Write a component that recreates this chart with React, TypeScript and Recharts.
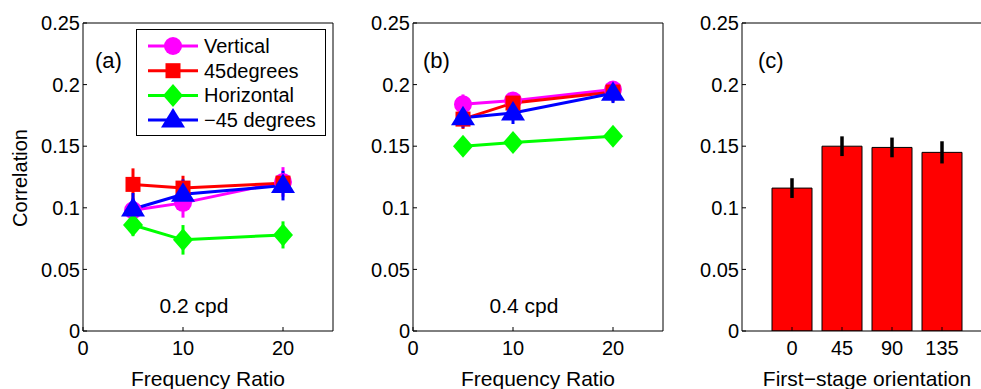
import React from "react";
import {
  LineChart,
  Line,
  ComposedChart,
  Bar,
  XAxis,
  YAxis,
  ErrorBar,
  Legend,
  Customized,
} from "recharts";

const FONT = "'Liberation Sans', Arial, Helvetica, sans-serif";

// frequency ratios on the x axis of panels (a) and (b)
const ratios = [5, 10, 20];

// panel (a) 0.2 cpd
const vertA = [0.098, 0.104, 0.121];
const vertAErr = [0.01, 0.012, 0.012];
const deg45A = [0.119, 0.116, 0.12];
const deg45AErr = [0.013, 0.01, 0.008];
const horizA = [0.086, 0.074, 0.078];
const horizAErr = [0.009, 0.012, 0.011];
const neg45A = [0.099, 0.111, 0.118];
const neg45AErr = [0.013, 0.012, 0.012];

// panel (b) 0.4 cpd
const vertB = [0.184, 0.187, 0.196];
const vertBErr = [0.008, 0.007, 0.006];
const deg45B = [0.172, 0.185, 0.194];
const deg45BErr = [0.008, 0.008, 0.008];
const horizB = [0.15, 0.153, 0.158];
const horizBErr = [0.005, 0.005, 0.005];
const neg45B = [0.173, 0.177, 0.193];
const neg45BErr = [0.008, 0.009, 0.008];

// panel (c)
const orientations = ["0", "45", "90", "135"];
const corrC = [0.116, 0.15, 0.149, 0.145];
const corrCErr = [0.008, 0.008, 0.008, 0.009];

const yTicks = [0, 0.05, 0.1, 0.15, 0.2, 0.25];
const xTicks = [0, 10, 20];

const series = [
  { key: "vert", name: "Vertical", color: "#ff00ff", shape: "circle" },
  { key: "deg45", name: "45degrees", color: "#ff0000", shape: "square" },
  { key: "horiz", name: "Horizontal", color: "#00ff00", shape: "diamond" },
  { key: "neg45", name: "\u221245 degrees", color: "#0000ff", shape: "triangle" },
];

const rowsA = ratios.map((r, i) => ({
  ratio: r,
  vert: vertA[i],
  vertErr: vertAErr[i],
  deg45: deg45A[i],
  deg45Err: deg45AErr[i],
  horiz: horizA[i],
  horizErr: horizAErr[i],
  neg45: neg45A[i],
  neg45Err: neg45AErr[i],
}));

const rowsB = ratios.map((r, i) => ({
  ratio: r,
  vert: vertB[i],
  vertErr: vertBErr[i],
  deg45: deg45B[i],
  deg45Err: deg45BErr[i],
  horiz: horizB[i],
  horizErr: horizBErr[i],
  neg45: neg45B[i],
  neg45Err: neg45BErr[i],
}));

const rowsC = orientations.map((o, i) => ({
  orient: o,
  corr: corrC[i],
  err: corrCErr[i],
}));

const tickStyle = { fill: "#000", fontSize: 20, fontFamily: FONT };

const Marker = ({ cx, cy, shape, color }: any) => {
  if (cx == null || cy == null) return null;
  if (shape === "circle") return <circle cx={cx} cy={cy} r={9} fill={color} />;
  if (shape === "square")
    return <rect x={cx - 7.5} y={cy - 7.5} width={15} height={15} fill={color} />;
  if (shape === "diamond")
    return (
      <polygon
        points={`${cx},${cy - 11.5} ${cx + 10},${cy} ${cx},${cy + 11.5} ${cx - 10},${cy}`}
        fill={color}
      />
    );
  return (
    <polygon
      points={`${cx},${cy - 12} ${cx + 12},${cy + 7.5} ${cx - 12},${cy + 7.5}`}
      fill={color}
    />
  );
};

const LegendBox = () => (
  <svg width={190} height={107} style={{ display: "block" }}>
    <rect x={0.5} y={0.5} width={189} height={106} fill="#fff" stroke="#000" />
    {series.map((s, i) => {
      const y = 17 + i * 24.7;
      return (
        <g key={s.key}>
          <line x1={12} x2={62} y1={y} y2={y} stroke={s.color} strokeWidth={3} />
          <Marker cx={37} cy={y} shape={s.shape} color={s.color} />
          <text x={68} y={y + 7} fontSize={20} fontFamily={FONT} fill="#000">
            {s.name}
          </text>
        </g>
      );
    })}
  </svg>
);

const txt = (x: number, y: number, s: string, anchor = "start", size = 21) => (
  <text x={x} y={y} fontSize={size} fontFamily={FONT} fill="#000" textAnchor={anchor}>
    {s}
  </text>
);

// MATLAB-style box: bottom/left axes with labels, top/right axes with inward ticks only
const FrameAxes = (kind: "number" | "category", dataKey: string) => [
  <XAxis
    key="xb"
    xAxisId="b"
    dataKey={dataKey}
    type={kind}
    domain={kind === "number" ? [0, 25] : undefined}
    ticks={kind === "number" ? xTicks : undefined}
    padding={kind === "category" ? { left: 25, right: 25 } : undefined}
    height={58}
    tickSize={-4}
    tickMargin={14}
    stroke="#000"
    tick={tickStyle}
    interval={0}
    allowDataOverflow
  />,
  <XAxis
    key="xt"
    xAxisId="t"
    orientation="top"
    dataKey={dataKey}
    type={kind}
    domain={kind === "number" ? [0, 25] : undefined}
    ticks={kind === "number" ? xTicks : undefined}
    padding={kind === "category" ? { left: 25, right: 25 } : undefined}
    height={1}
    tickSize={-4}
    stroke="#000"
    tick={false}
    interval={0}
    allowDataOverflow
  />,
  <YAxis
    key="yl"
    yAxisId="l"
    domain={[0, 0.25]}
    ticks={yTicks}
    width={kind === "number" ? 83 : 82}
    tickSize={-4}
    tickMargin={7}
    stroke="#000"
    tick={tickStyle}
    interval={0}
    allowDataOverflow
  />,
  <YAxis
    key="yr"
    yAxisId="r"
    orientation="right"
    domain={[0, 0.25]}
    ticks={yTicks}
    width={1}
    tickSize={-4}
    stroke="#000"
    tick={false}
    interval={0}
    allowDataOverflow
  />,
];

// invisible series so the top/right frame axes get drawn
const frameLink = (dataKey: string) => (
  <Line
    key="frame"
    xAxisId="t"
    yAxisId="r"
    dataKey={dataKey}
    stroke="none"
    dot={false}
    activeDot={false}
    legendType="none"
    isAnimationActive={false}
  />
);

const LinePanel = ({ rows, tag, note, withLegend, withYLabel }: any) => (
  <LineChart width={340} height={389} data={rows} margin={{ top: 22, right: 6, left: 0, bottom: 0 }}>
    {FrameAxes("number", "ratio")}
    {frameLink("vert")}
    {series.map((s) => (
      <Line
        key={s.key}
        xAxisId="b"
        yAxisId="l"
        type="linear"
        dataKey={s.key}
        name={s.name}
        stroke={s.color}
        strokeWidth={3}
        isAnimationActive={false}
        dot={(p: any) => <Marker key={p.index} cx={p.cx} cy={p.cy} shape={s.shape} color={s.color} />}
        activeDot={false}
      >
        <ErrorBar dataKey={s.key + "Err"} direction="y" width={0} stroke={s.color} strokeWidth={3} />
      </Line>
    ))}
    {withLegend && (
      <Legend
        layout="vertical"
        align="center"
        verticalAlign="middle"
        content={() => <LegendBox />}
        wrapperStyle={{ left: 136, top: 29, width: 190, height: 107 }}
      />
    )}
    <Customized
      component={() => (
        <g>
          {txt(tag === "(a)" ? 95 : 93, 68, tag, "start", 22)}
          {txt(194, 313, note, "middle")}
          {txt(208, 386, "Frequency Ratio", "middle")}
          {withYLabel && (
            <text
              transform="translate(27,178) rotate(-90)"
              fontSize={20}
              fontFamily={FONT}
              fill="#000"
              textAnchor="middle"
            >
              Correlation
            </text>
          )}
        </g>
      )}
    />
  </LineChart>
);

const BarPanel = () => (
  <ComposedChart width={340} height={389} data={rowsC} margin={{ top: 22, right: 7, left: 0, bottom: 0 }} barSize={40}>
    {FrameAxes("category", "orient")}
    {frameLink("corr")}
    <Bar xAxisId="b" yAxisId="l" dataKey="corr" fill="#ff0000" stroke="#000" strokeWidth={1} isAnimationActive={false}>
      <ErrorBar dataKey="err" direction="y" width={0} stroke="#000" strokeWidth={3.5} />
    </Bar>
    <Customized
      component={() => (
        <g>
          {txt(98, 68, "(c)", "start", 22)}
          {txt(207, 386, "First\u2212stage orientation", "middle")}
        </g>
      )}
    />
  </ComposedChart>
);

export default function App() {
  return (
    <div
      style={{
        position: "absolute",
        left: 0,
        top: 0,
        width: 981,
        height: 389,
        overflow: "hidden",
        background: "#fff",
        fontFamily: FONT,
      }}
    >
      <div style={{ position: "absolute", left: 0, top: 0 }}>
        <LinePanel rows={rowsA} tag="(a)" note="0.2 cpd" withLegend withYLabel />
      </div>
      <div style={{ position: "absolute", left: 330, top: 0 }}>
        <LinePanel rows={rowsB} tag="(b)" note="0.4 cpd" />
      </div>
      <div style={{ position: "absolute", left: 660, top: 0 }}>
        <BarPanel />
      </div>
    </div>
  );
}
